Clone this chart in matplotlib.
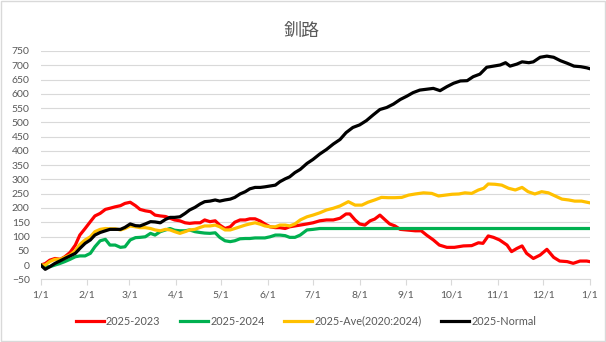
import matplotlib.pyplot as plt
from matplotlib.patches import Rectangle

plt.rcParams['font.family'] = ['Lato', 'Noto Sans CJK JP', 'DejaVu Sans']

# Data (day of year from 1/1)
month_days = [0, 31, 59, 90, 120, 151, 181, 212, 243, 273, 304, 334, 365]
month_labels = ["1/1", "2/1", "3/1", "4/1", "5/1", "6/1", "7/1", "8/1", "9/1", "10/1", "11/1", "12/1", "1/1"]

days_a = [0, 3, 6, 9.5, 13, 16, 19.5, 23, 26, 29.5, 33, 36, 39.5, 43, 46, 49.5, 53, 56, 59.5, 63,
          66, 69.5, 73, 76, 79.5, 83, 86, 89, 92.5, 96, 99, 102.5, 106, 109, 112.5, 116, 119, 122.5,
          126, 129, 132.5, 136, 139, 142.5, 146, 149, 152.5, 156, 159, 162.5, 165.5, 169]

red_a = [0, 5, 17, 23, 20, 29, 44, 70, 105, 128, 152, 172, 181, 195, 199, 204, 208, 216, 220, 208,
         195, 190, 187, 175, 172, 170, 164, 158, 155, 148, 146, 148, 148, 158, 152, 155, 140, 128,
         134, 150, 158, 158, 162, 162, 154, 144, 134, 131, 131, 128, 134, 137]
red_b_days = [172.5, 177, 181, 185.5, 190, 194.5, 199, 203, 205.5, 209, 212, 215.5, 219, 222, 225.5,
              229, 232, 235.5, 239, 243, 249, 253, 256.5, 261, 265, 270, 275, 281, 286.5, 291, 294,
              297.5, 301, 305, 310, 313, 316.5, 320, 323, 327.5, 332, 336.5, 341, 345, 350, 354,
              358.5, 363, 365]
red_b = [140, 144, 148, 155, 158, 158, 164, 179, 179, 158, 144, 140, 155, 161, 175, 158, 144, 137,
         125, 123, 120, 120, 105, 88, 70, 62, 62, 67, 68, 78, 76, 102, 97, 88, 70, 47, 58, 67, 41,
         23, 35, 55, 27, 14, 12, 6, 14, 14, 12]

green_a = [0, -6, -6, 0, 6, 12, 20, 29, 32, 32, 41, 64, 85, 90, 70, 70, 62, 64, 88, 96,
           97, 99, 111, 105, 117, 123, 128, 122, 120, 120, 123, 117, 114, 112, 111, 113, 97, 85,
           82, 85, 92, 93, 93, 95, 95, 95, 99, 105, 105, 103, 97, 97]
green_b_days = [172.5, 177, 181, 185.5, 365]
green_b = [105, 123, 125, 128, 128]

ave_a = [0, 0, 12, 20, 20, 27, 35, 50, 72, 88, 99, 117, 125, 128, 127, 127, 123, 128, 137, 134,
         131, 131, 128, 123, 120, 125, 123, 117, 111, 117, 123, 125, 132, 137, 137, 140, 134, 123,
         123, 128, 134, 140, 144, 148, 143, 137, 134, 134, 140, 140, 137, 144]
ave_b_days = [172.5, 177, 181, 185.5, 190, 194.5, 199, 204.5, 209, 213.5, 217.5, 222, 226.5, 231,
              235.5, 240, 244.5, 249, 254.5, 260, 264.5, 269, 273.5, 278, 282, 286.5, 291, 294.5,
              297.5, 302, 306.5, 311, 315.5, 320, 324, 328.5, 333, 337.5, 342, 346.5, 351, 355,
              359.5, 365]
ave_b = [158, 169, 175, 183, 193, 199, 207, 222, 210, 210, 220, 228, 237, 236, 236, 237, 245, 249,
         253, 251, 242, 245, 248, 249, 253, 251, 263, 269, 284, 283, 280, 269, 263, 272, 257, 249,
         257, 253, 242, 231, 228, 224, 224, 218]

normal_a = [0, -15, -6, 6, 15, 23, 32, 41, 58, 76, 88, 105, 114, 120, 125, 125, 125, 132, 144, 138,
            137, 144, 152, 151, 148, 160, 167, 167, 169, 181, 193, 202, 214, 222, 224, 228, 224, 228,
            231, 237, 249, 257, 267, 272, 272, 274, 277, 280, 292, 302, 309, 324]
normal_b_days = [172.5, 177, 181, 185.5, 190, 194.5, 199, 203, 207.5, 212, 216.5, 221, 225.5, 230,
                 234.5, 239, 243.5, 247.5, 252, 256.5, 261, 265.5, 270, 274.5, 279, 283.5, 287.5,
                 292, 296.5, 301, 305.5, 309, 312, 316.5, 320, 324.5, 327.5, 332, 336.5, 341, 345.5,
                 350, 354.5, 359, 363, 365]
normal_b = [335, 356, 370, 389, 405, 424, 440, 464, 482, 491, 506, 526, 545, 552, 564, 580, 592,
            604, 613, 616, 619, 611, 625, 637, 645, 646, 660, 669, 693, 697, 701, 709, 697, 704,
            712, 709, 712, 728, 732, 728, 716, 707, 697, 695, 691, 688]

series = [
    ("2025-2023", red_a, red_b_days, red_b, "#ff0000"),
    ("2025-2024", green_a, green_b_days, green_b, "#00b050"),
    ("2025-Ave(2020:2024)", ave_a, ave_b_days, ave_b, "#ffc000"),
    ("2025-Normal", normal_a, normal_b_days, normal_b, "#000000"),
]

fig = plt.figure(figsize=(6.06, 3.42), dpi=100)
ax = fig.add_axes([0.0672, 0.1833, 0.906, 0.6676])

for name, va, db, vb, col in series:
    ax.plot(days_a + db, va + vb, color=col, lw=2.3, label=name, solid_joinstyle='round')

ax.set_xlim(0, 365)
ax.set_ylim(-50, 750)
ax.set_yticks(range(-50, 751, 50))
ax.set_xticks(month_days)
ax.set_xticklabels(month_labels)
ax.grid(axis='y', color='#d9d9d9', lw=0.8)
ax.set_axisbelow(True)
for s in ['top', 'right', 'left']:
    ax.spines[s].set_visible(False)
ax.spines['bottom'].set_color('#d9d9d9')
ax.tick_params(axis='y', length=0, pad=8, labelsize=7.5, labelcolor='#595959')
ax.tick_params(axis='x', length=4, color='#d9d9d9', pad=4, labelsize=7.5, labelcolor='#595959')

fig.suptitle("釧路", x=0.497, y=0.935, fontsize=13, color='#595959',
             family=['Noto Sans CJK JP', 'DejaVu Sans'])

fig.legend(loc='center', bbox_to_anchor=(0.505, 0.061), ncol=4, frameon=False,
           fontsize=7.8, labelcolor='#595959', handlelength=2.6, handletextpad=0.2,
           columnspacing=1.8)

fig.patches.append(Rectangle((0.001, 0.002), 0.997, 0.995, transform=fig.transFigure,
                             fill=False, edgecolor='#d9d9d9', lw=1))

fig.savefig("out.png", dpi=100)
